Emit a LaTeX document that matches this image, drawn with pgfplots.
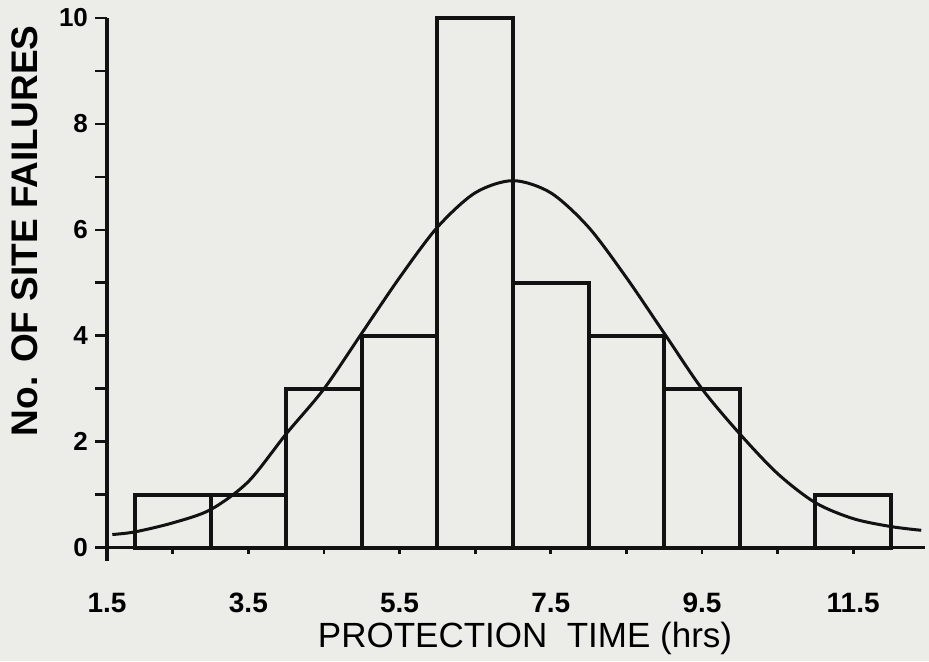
\documentclass[border=0pt]{standalone}
\usepackage{fontspec}
\setmainfont{Liberation Sans}
\usepackage{pgfplots}
\pgfplotsset{compat=1.18}
\usetikzlibrary{backgrounds}
\definecolor{paper}{RGB}{236,236,233}
\definecolor{ink}{RGB}{18,18,18}
\begin{document}
\begin{tikzpicture}
\begin{axis}[
  scale only axis, width=409pt, height=271.5pt,
  xmin=1.63, xmax=12.45, ymin=-0.25, ymax=10,
  axis x line=middle, axis y line=left,
  axis line style={-, line width=1.6pt, ink},
  hide obscured x ticks=false, hide obscured y ticks=false,
  xtick={1.63,3.5,5.5,7.5,9.5,11.5},
  xticklabels={1.5,3.5,5.5,7.5,9.5,11.5},
  minor xtick={2.5,4.5,6.5,8.5,10.5},
  ytick={0,2,4,6,8,10},
  minor ytick={1,3,5,7,9},
  tick align=outside,
  major tick length=6pt, minor tick length=6pt,
  x tick style={line width=1.4pt, ink, /pgfplots/major tick length=3pt, /pgfplots/minor tick length=3pt},
  y tick style={line width=1.4pt, ink},
  /pgf/number format/assume math mode=true,
  xticklabel style={anchor=center, yshift=-21.5pt, font=\fontsize{14}{16}\selectfont\bfseries},
  yticklabel style={anchor=east, font=\fontsize{13}{15}\selectfont\bfseries},
  every axis y label/.style={at={(axis description cs:-0.1002,0.608)}, rotate=90, anchor=center, font=\fontsize{18.5}{22}\selectfont\bfseries},
  every axis x label/.style={at={(axis description cs:0.5,0)}, anchor=base, xshift=4.5pt, yshift=-43pt, font=\fontsize{17.5}{20}\selectfont},
  xlabel={PROTECTION\ \ TIME (hrs)},
  ylabel={No. OF SITE FAILURES},
  clip=false,
]
\addplot[ybar interval, fill=none, draw=ink, line width=2pt] coordinates {(2,1) (3,1) (4,3) (5,4) (6,10) (7,5) (8,4) (9,3) (10,0) (11,1) (12,1)};
\addplot[smooth, ink, line width=1.5pt] coordinates {(1.7,0.25) (2,0.3) (2.5,0.47) (3,0.72) (3.5,1.25) (4,2.15) (4.5,3.0) (5,4.05) (5.5,5.1) (6,6.05) (6.5,6.7) (7,6.93) (7.5,6.7) (8,6.05) (8.5,5.1) (9,4.05) (9.5,3.0) (10,2.15) (10.5,1.4) (11,0.85) (11.5,0.55) (12,0.4) (12.4,0.33)};
\end{axis}
\begin{scope}[on background layer]
\fill[paper] (-53.5pt,-50pt) rectangle (411pt,280.5pt);
\end{scope}
\end{tikzpicture}
\end{document}
